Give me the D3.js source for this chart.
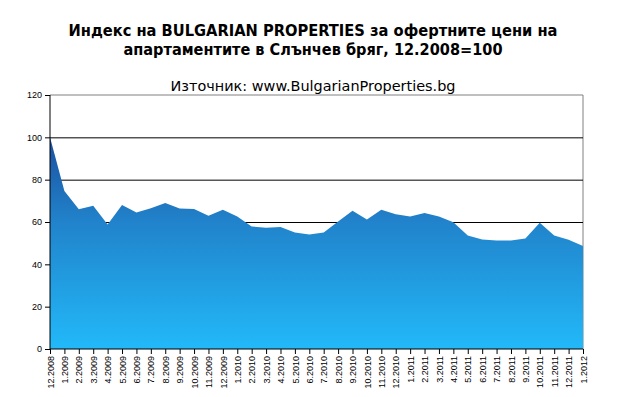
<!DOCTYPE html>
<html>
<head>
<meta charset="utf-8">
<script src="https://cdn.jsdelivr.net/npm/d3@7"></script>
<style>
  body { margin: 0; background: #fff; }
  svg { display: block; }
  .axis text { font-family: "Liberation Sans", Arial, sans-serif; font-size: 9px; fill: #000; }
</style>
</head>
<body>
<svg id="chart" width="626" height="397"></svg>
<script>
// month labels (x axis)
var months = ["12.2008", "1.2009", "2.2009", "3.2009", "4.2009", "5.2009", "6.2009", "7.2009",
  "8.2009", "9.2009", "10.2009", "11.2009", "12.2009", "1.2010", "2.2010", "3.2010", "4.2010",
  "5.2010", "6.2010", "7.2010", "8.2010", "9.2010", "10.2010", "11.2010", "12.2010", "1.2011",
  "2.2011", "3.2011", "4.2011", "5.2011", "6.2011", "7.2011", "8.2011", "9.2011", "10.2011",
  "11.2011", "12.2011", "1.2012"];

// index values, 12.2008 = 100
var indexValues = [100, 74.7, 66, 67.7, 58.8, 68, 64.5, 66.5,
  69, 66.4, 66.2, 63, 65.8, 62.6, 57.9, 57.3, 57.6,
  55, 54.1, 55, 60.2, 65.3, 61.2, 65.8, 63.7, 62.6,
  64.3, 62.6, 59.9, 53.6, 51.7, 51.3, 51.3, 52.2, 59.6,
  53.6, 51.6, 48.7];

var yTicks = [0, 20, 40, 60, 80, 100, 120];
var gridValues = [60, 80, 100];

var svg = d3.select("#chart"),
    margin = {top: 95, right: 43, bottom: 48, left: 50},
    width = +svg.attr("width") - margin.left - margin.right,
    height = +svg.attr("height") - margin.top - margin.bottom;

// titles
svg.append("text")
    .attr("x", 313).attr("y", 36)
    .attr("text-anchor", "middle")
    .style("font-family", "'DejaVu Sans', sans-serif")
    .style("font-weight", "bold")
    .style("font-size", "16px")
    .attr("textLength", 489).attr("lengthAdjust", "spacingAndGlyphs")
    .text("Индекс на BULGARIAN PROPERTIES за офертните цени на");
svg.append("text")
    .attr("x", 313).attr("y", 55)
    .attr("text-anchor", "middle")
    .style("font-family", "'DejaVu Sans', sans-serif")
    .style("font-weight", "bold")
    .style("font-size", "16px")
    .attr("textLength", 379).attr("lengthAdjust", "spacingAndGlyphs")
    .text("апартаментите в Слънчев бряг, 12.2008=100");
svg.append("text")
    .attr("x", 313).attr("y", 91)
    .attr("text-anchor", "middle")
    .style("font-family", "'DejaVu Sans', sans-serif")
    .style("font-size", "14px")
    .attr("textLength", 285).attr("lengthAdjust", "spacingAndGlyphs")
    .text("Източник: www.BulgarianProperties.bg");

var x = d3.scalePoint().domain(months).range([0, width]),
    y = d3.scaleLinear().domain([0, 120]).range([height, 0]);

var g = svg.append("g")
    .attr("transform", "translate(" + margin.left + "," + margin.top + ")");

var defs = svg.append("defs");
var grad = defs.append("linearGradient")
    .attr("id", "areaFill")
    .attr("gradientUnits", "userSpaceOnUse")
    .attr("x1", 0).attr("x2", 0)
    .attr("y1", y(100)).attr("y2", y(0));
grad.append("stop").attr("offset", "0%").attr("stop-color", "#1b4f9f");
grad.append("stop").attr("offset", "40%").attr("stop-color", "#2183cb");
grad.append("stop").attr("offset", "100%").attr("stop-color", "#22b9f9");

// frame (top and right in grey)
g.append("path")
    .attr("d", "M0," + y(120) + "H" + width + "V" + y(0))
    .attr("fill", "none")
    .attr("stroke", "#808080")
    .attr("stroke-width", 1);

// gridlines
g.selectAll(".grid")
    .data(gridValues)
    .enter()
    .append("line")
    .attr("class", "grid")
    .attr("x1", 0).attr("x2", width)
    .attr("y1", function (d) { return y(d) + 0.5; })
    .attr("y2", function (d) { return y(d) + 0.5; })
    .attr("stroke", "#000")
    .attr("stroke-width", 1);

var area = d3.area()
    .x(function (d, i) { return x(months[i]); })
    .y0(y(0))
    .y1(function (d) { return y(d); });

g.append("path")
    .datum(indexValues)
    .attr("fill", "url(#areaFill)")
    .attr("d", area);

g.append("g")
    .attr("class", "axis axis--y")
    .call(d3.axisLeft(y).tickValues(yTicks).tickSize(5).tickPadding(3))
    .call(function (a) { a.select(".domain").attr("d", "M0," + height + "V0"); });

g.append("g")
    .attr("class", "axis axis--x")
    .attr("transform", "translate(0," + height + ")")
    .call(d3.axisBottom(x).tickSize(5).tickPadding(4))
    .call(function (a) { a.select(".domain").attr("d", "M0,0H" + width); })
    .selectAll("text")
    .attr("transform", "rotate(-90)")
    .attr("text-anchor", "end")
    .attr("x", -7)
    .attr("y", 0)
    .attr("dy", "0.35em");
</script>
</body>
</html>
